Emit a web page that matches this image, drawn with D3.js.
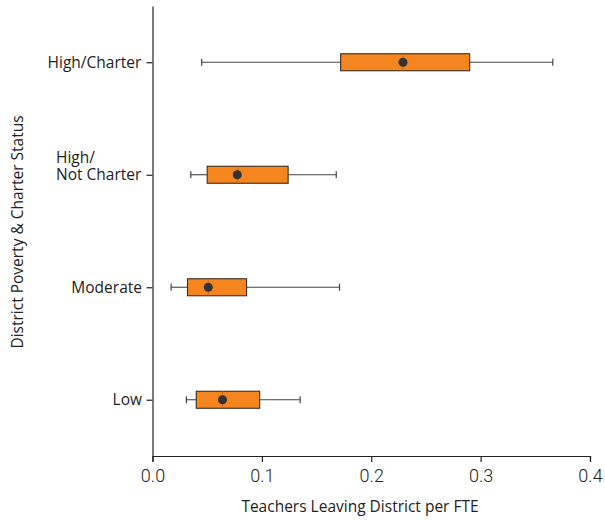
<!DOCTYPE html>
<html>
<head>
<meta charset="utf-8">
<script src="https://cdn.jsdelivr.net/npm/d3@7"></script>
<style>
  body { margin: 0; background: #fff; }
  svg { display: block; font-family: "Open Sans", Roboto, sans-serif; }
</style>
</head>
<body>
<svg id="chart" width="605" height="521"></svg>
<script>
// Data
const categories = ["Low", "Moderate", "High/\nNot Charter", "High/Charter"];
const whiskerLow  = [0.031, 0.017, 0.035, 0.045];
const q1          = [0.040, 0.032, 0.050, 0.172];
const median      = [0.064, 0.051, 0.078, 0.229];
const q3          = [0.098, 0.086, 0.124, 0.290];
const whiskerHigh = [0.135, 0.171, 0.168, 0.366];
const means       = [0.064, 0.051, 0.0775, 0.229];
const xTicks = [0, 0.1, 0.2, 0.3, 0.4];

const rows = categories.map((c, i) => ({
  cat: c, lo: whiskerLow[i], q1: q1[i], med: median[i], q3: q3[i], hi: whiskerHigh[i], mean: means[i]
}));

const svg = d3.select("#chart");
const mLeft = 152.5, mRight = 590, mTop = 6, mBottom = 456;

const x = d3.scaleLinear().domain([0, 0.4]).range([mLeft, mRight]);
const y = d3.scalePoint().domain(categories).range([mBottom, mTop]).padding(0.5);

// X axis
const xAxis = svg.append("g").attr("transform", `translate(0,${mBottom})`)
  .call(d3.axisBottom(x).tickValues(xTicks).tickFormat(d3.format(".1f")).tickSizeOuter(0).tickSize(6));
xAxis.select(".domain").attr("stroke", "#222").attr("stroke-width", 1.2);
xAxis.selectAll(".tick line").attr("stroke", "#222").attr("stroke-width", 1.2);
xAxis.selectAll(".tick text").attr("font-size", 18).attr("fill", "#222").attr("dy", "0.95em")
  .attr("font-family", "Roboto, sans-serif").attr("font-weight", 300);

// Y axis
const yAxis = svg.append("g").attr("transform", `translate(${mLeft},0)`)
  .call(d3.axisLeft(y).tickSize(6).tickSizeOuter(0).tickFormat(""));
yAxis.select(".domain").attr("stroke", "#222").attr("stroke-width", 1.2);
yAxis.selectAll(".tick line").attr("stroke", "#222").attr("stroke-width", 1.2);

// Y tick labels (multi-line left aligned block, right-justified to the tick)
const labelEnd = 142;
categories.forEach(c => {
  const lines = c.split("\n");
  const g = svg.append("g");
  const t = g.append("text").attr("font-size", 15.5).attr("fill", "#222");
  const lh = 17;
  const y0 = y(c) - (lines.length - 1) * lh + 5.5;
  lines.forEach((ln, i) => {
    t.append("tspan").attr("x", 0).attr("y", y0 + i * lh).text(ln);
  });
  const w = t.node().getBBox().width;
  t.attr("transform", `translate(${labelEnd - w},0)`);
});

// Boxes
const bh = 17, ch = 7;
const gb = svg.append("g").selectAll("g").data(rows).join("g");
gb.append("line").attr("x1", d => x(d.lo)).attr("x2", d => x(d.q1))
  .attr("y1", d => y(d.cat)).attr("y2", d => y(d.cat)).attr("stroke", "#444").attr("stroke-width", 1.1);
gb.append("line").attr("x1", d => x(d.q3)).attr("x2", d => x(d.hi))
  .attr("y1", d => y(d.cat)).attr("y2", d => y(d.cat)).attr("stroke", "#444").attr("stroke-width", 1.1);
gb.append("line").attr("x1", d => x(d.lo)).attr("x2", d => x(d.lo))
  .attr("y1", d => y(d.cat) - ch / 2).attr("y2", d => y(d.cat) + ch / 2).attr("stroke", "#444").attr("stroke-width", 1.2);
gb.append("line").attr("x1", d => x(d.hi)).attr("x2", d => x(d.hi))
  .attr("y1", d => y(d.cat) - ch / 2).attr("y2", d => y(d.cat) + ch / 2).attr("stroke", "#444").attr("stroke-width", 1.2);
gb.append("rect").attr("x", d => x(d.q1)).attr("width", d => x(d.q3) - x(d.q1))
  .attr("y", d => y(d.cat) - bh / 2).attr("height", bh)
  .attr("fill", "#F5861F").attr("stroke", "#3a2c20").attr("stroke-width", 1.1);
gb.append("line").attr("x1", d => x(d.med)).attr("x2", d => x(d.med))
  .attr("y1", d => y(d.cat) - bh / 2).attr("y2", d => y(d.cat) + bh / 2)
  .attr("stroke", "#c86d1c").attr("stroke-width", 1);
gb.append("circle").attr("cx", d => x(d.mean)).attr("cy", d => y(d.cat)).attr("r", 4.5).attr("fill", "#333");

// Axis titles
svg.append("text").attr("x", 360).attr("y", 512).attr("text-anchor", "middle")
  .attr("font-size", 15.5).attr("fill", "#222").text("Teachers Leaving District per FTE");
svg.append("text").attr("transform", "translate(23,232) rotate(-90)").attr("text-anchor", "middle")
  .attr("font-size", 15.5).attr("fill", "#222").text("District Poverty & Charter Status");
</script>
</body>
</html>
